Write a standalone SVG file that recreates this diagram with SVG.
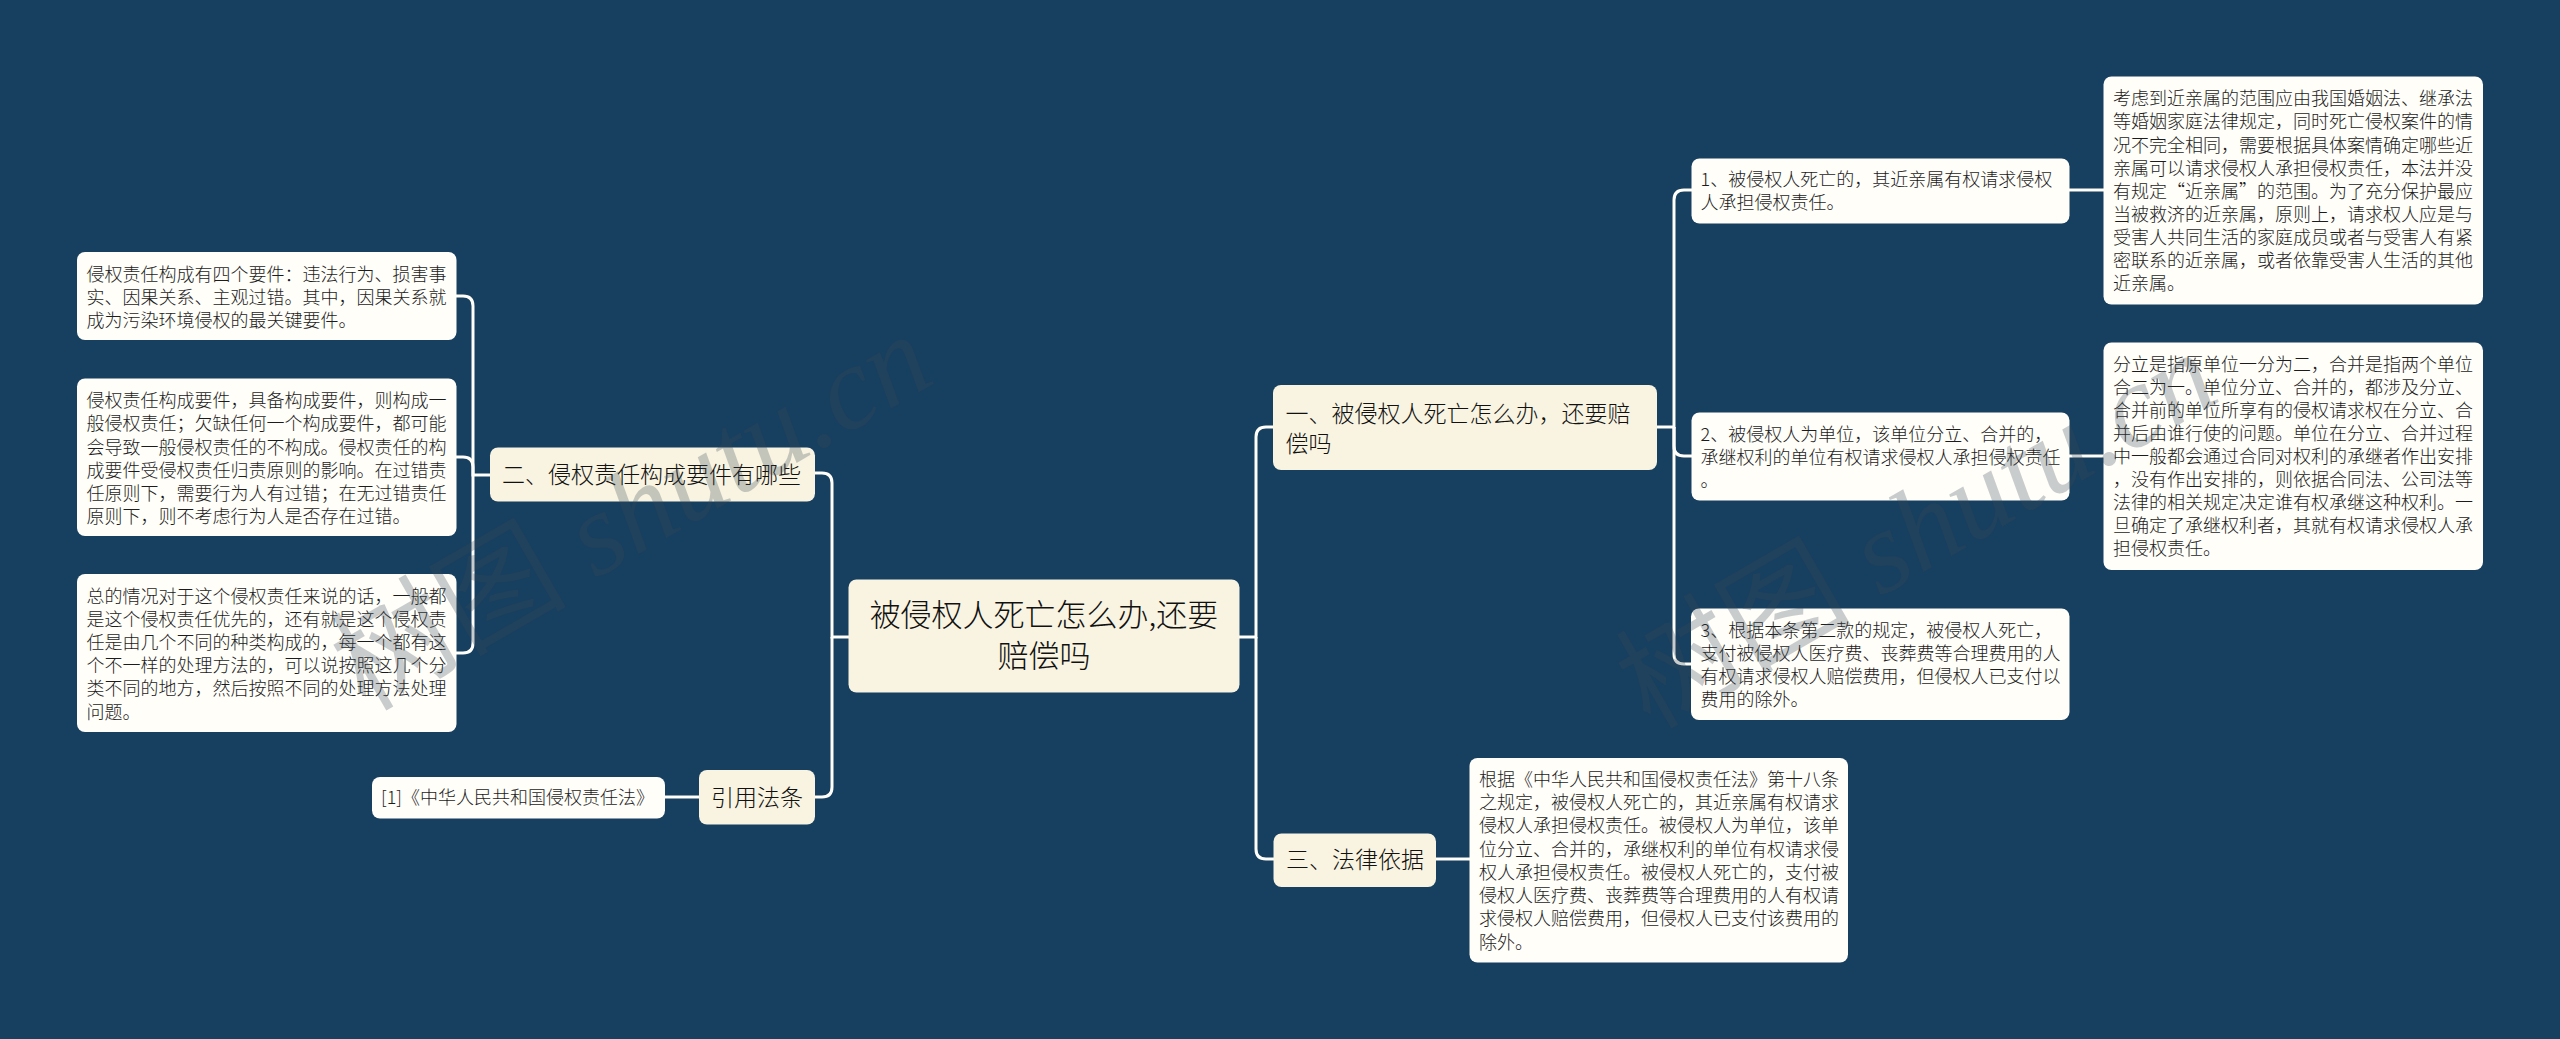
<svg xmlns="http://www.w3.org/2000/svg" width="2560" height="1039" viewBox="0 0 2560 1039">
<style>
text{font-family:"Noto Sans CJK SC",sans-serif;font-weight:300;fill:#1c1c1c}
.root rect{fill:#f8f4e1}
.mid rect{fill:#f8f4e1}
.leaf rect{fill:#fffef9}
.root text{font-size:31px;fill:#111;text-anchor:middle}
.mid text{font-size:23px;fill:#111}
.leaf text{font-size:18px}
#connectors path{fill:none;stroke:#fffef9;stroke-width:3}
text.wm{font-family:"Liberation Serif",serif;font-style:italic;font-weight:400;font-size:118px;fill:#3c4a55;opacity:.27}
.wm tspan.cjk{font-family:"Noto Sans CJK SC",sans-serif;font-style:normal}
</style>
<rect width="2560" height="1039" fill="#173f5f"/>
<g id="connectors">
<path d="M1239 637H1256V437Q1256 427 1266 427H1274"/>
<path d="M1256 637V849Q1256 859 1266 859H1274"/>
<path d="M849 637H832V483Q832 473 822 473H814"/>
<path d="M832 637V787Q832 797 822 797H814"/>
<path d="M1657 427H1674V200Q1674 190 1684 190H1692"/>
<path d="M1674 427V446Q1674 456 1684 456H1692"/>
<path d="M1674 427V654Q1674 664 1684 664H1692"/>
<path d="M2069 190H2104"/>
<path d="M2069 456H2104"/>
<path d="M1435 859H1470"/>
<path d="M490 475H473V306Q473 296 463 296H456"/>
<path d="M473 475V467Q473 457 463 457H456"/>
<path d="M473 475V643Q473 653 463 653H456"/>
<path d="M699 797H664"/>
</g>
<g id="root" class="root"><rect x="848.500" y="579.500" width="391" height="113" rx="8"/><text x="1044" y="626">被侵权人死亡怎么办,还要</text><text x="1044" y="667">赔偿吗</text></g>
<g id="n1" class="mid"><rect x="1273" y="385" width="384" height="85" rx="8"/><text x="1285.500" y="422">一、被侵权人死亡怎么办，还要赔</text><text x="1285.500" y="452">偿吗</text></g>
<g id="n2" class="mid"><rect x="490" y="447.500" width="325" height="54" rx="8"/><text x="502" y="483">二、侵权责任构成要件有哪些</text></g>
<g id="n3" class="mid"><rect x="1273.500" y="833.500" width="162.500" height="53.500" rx="8"/><text x="1286" y="868">三、法律依据</text></g>
<g id="n4" class="mid"><rect x="699" y="770" width="116" height="54.500" rx="8"/><text x="711" y="806">引用法条</text></g>
<g id="l1" class="leaf"><rect x="1691.500" y="158.500" width="378" height="65" rx="8"/><text x="1700.500" y="186.300">1、被侵权人死亡的，其近亲属有权请求侵权</text><text x="1700.500" y="209.300">人承担侵权责任。</text></g>
<g id="l2" class="leaf"><rect x="1691.500" y="412.500" width="378" height="88" rx="8"/><text x="1700.500" y="441.300">2、被侵权人为单位，该单位分立、合并的，</text><text x="1700.500" y="464.300">承继权利的单位有权请求侵权人承担侵权责任</text><text x="1700.500" y="487.300">。</text></g>
<g id="l3" class="leaf"><rect x="1691" y="608.500" width="378.500" height="111.500" rx="8"/><text x="1700.500" y="637">3、根据本条第二款的规定，被侵权人死亡，</text><text x="1700.500" y="660">支付被侵权人医疗费、丧葬费等合理费用的人</text><text x="1700.500" y="683">有权请求侵权人赔偿费用，但侵权人已支付以</text><text x="1700.500" y="706">费用的除外。</text></g>
<g id="l1a" class="leaf"><rect x="2103.500" y="76.500" width="379.500" height="228" rx="8"/><text x="2113" y="105.300">考虑到近亲属的范围应由我国婚姻法、继承法</text><text x="2113" y="128.400">等婚姻家庭法律规定，同时死亡侵权案件的情</text><text x="2113" y="151.500">况不完全相同，需要根据具体案情确定哪些近</text><text x="2113" y="174.600">亲属可以请求侵权人承担侵权责任，本法并没</text><text x="2113" y="197.700">有规定“近亲属”的范围。为了充分保护最应</text><text x="2113" y="220.800">当被救济的近亲属，原则上，请求权人应是与</text><text x="2113" y="243.900">受害人共同生活的家庭成员或者与受害人有紧</text><text x="2113" y="267">密联系的近亲属，或者依靠受害人生活的其他</text><text x="2113" y="290.100">近亲属。</text></g>
<g id="l2a" class="leaf"><rect x="2103.500" y="342.500" width="379.500" height="227.500" rx="8"/><text x="2113" y="370.600">分立是指原单位一分为二，合并是指两个单位</text><text x="2113" y="393.700">合二为一。单位分立、合并的，都涉及分立、</text><text x="2113" y="416.800">合并前的单位所享有的侵权请求权在分立、合</text><text x="2113" y="439.900">并后由谁行使的问题。单位在分立、合并过程</text><text x="2113" y="463">中一般都会通过合同对权利的承继者作出安排</text><text x="2113" y="486.100">，没有作出安排的，则依据合同法、公司法等</text><text x="2113" y="509.200">法律的相关规定决定谁有权承继这种权利。一</text><text x="2113" y="532.300">旦确定了承继权利者，其就有权请求侵权人承</text><text x="2113" y="555.400">担侵权责任。</text></g>
<g id="l3a" class="leaf"><rect x="1469.500" y="758" width="378.500" height="204.500" rx="8"/><text x="1479" y="785.600">根据《中华人民共和国侵权责任法》第十八条</text><text x="1479" y="808.900">之规定，被侵权人死亡的，其近亲属有权请求</text><text x="1479" y="832.200">侵权人承担侵权责任。被侵权人为单位，该单</text><text x="1479" y="855.500">位分立、合并的，承继权利的单位有权请求侵</text><text x="1479" y="878.800">权人承担侵权责任。被侵权人死亡的，支付被</text><text x="1479" y="902.100">侵权人医疗费、丧葬费等合理费用的人有权请</text><text x="1479" y="925.400">求侵权人赔偿费用，但侵权人已支付该费用的</text><text x="1479" y="948.700">除外。</text></g>
<g id="l4a" class="leaf"><rect x="77" y="252" width="379.500" height="88" rx="8"/><text x="86.500" y="280.600">侵权责任构成有四个要件：违法行为、损害事</text><text x="86.500" y="303.600">实、因果关系、主观过错。其中，因果关系就</text><text x="86.500" y="326.600">成为污染环境侵权的最关键要件。</text></g>
<g id="l4b" class="leaf"><rect x="77" y="378.500" width="379.500" height="157.500" rx="8"/><text x="86.500" y="407.300">侵权责任构成要件，具备构成要件，则构成一</text><text x="86.500" y="430.400">般侵权责任；欠缺任何一个构成要件，都可能</text><text x="86.500" y="453.500">会导致一般侵权责任的不构成。侵权责任的构</text><text x="86.500" y="476.600">成要件受侵权责任归责原则的影响。在过错责</text><text x="86.500" y="499.700">任原则下，需要行为人有过错；在无过错责任</text><text x="86.500" y="522.800">原则下，则不考虑行为人是否存在过错。</text></g>
<g id="l4c" class="leaf"><rect x="77" y="574" width="379.500" height="158" rx="8"/><text x="86.500" y="603">总的情况对于这个侵权责任来说的话，一般都</text><text x="86.500" y="626.100">是这个侵权责任优先的，还有就是这个侵权责</text><text x="86.500" y="649.200">任是由几个不同的种类构成的，每一个都有这</text><text x="86.500" y="672.300">个不一样的处理方法的，可以说按照这几个分</text><text x="86.500" y="695.400">类不同的地方，然后按照不同的处理方法处理</text><text x="86.500" y="718.500">问题。</text></g>
<g id="l5a" class="leaf"><rect x="372" y="777" width="293" height="41.500" rx="8"/><text x="381" y="804.300">[1]《中华人民共和国侵权责任法》</text></g>
<text class="wm" transform="translate(365 712) rotate(-30)"><tspan class="cjk">树图</tspan> shutu.cn</text>
<text class="wm" transform="translate(1650 730) rotate(-30)"><tspan class="cjk">树图</tspan> shutu.cn</text>
</svg>
